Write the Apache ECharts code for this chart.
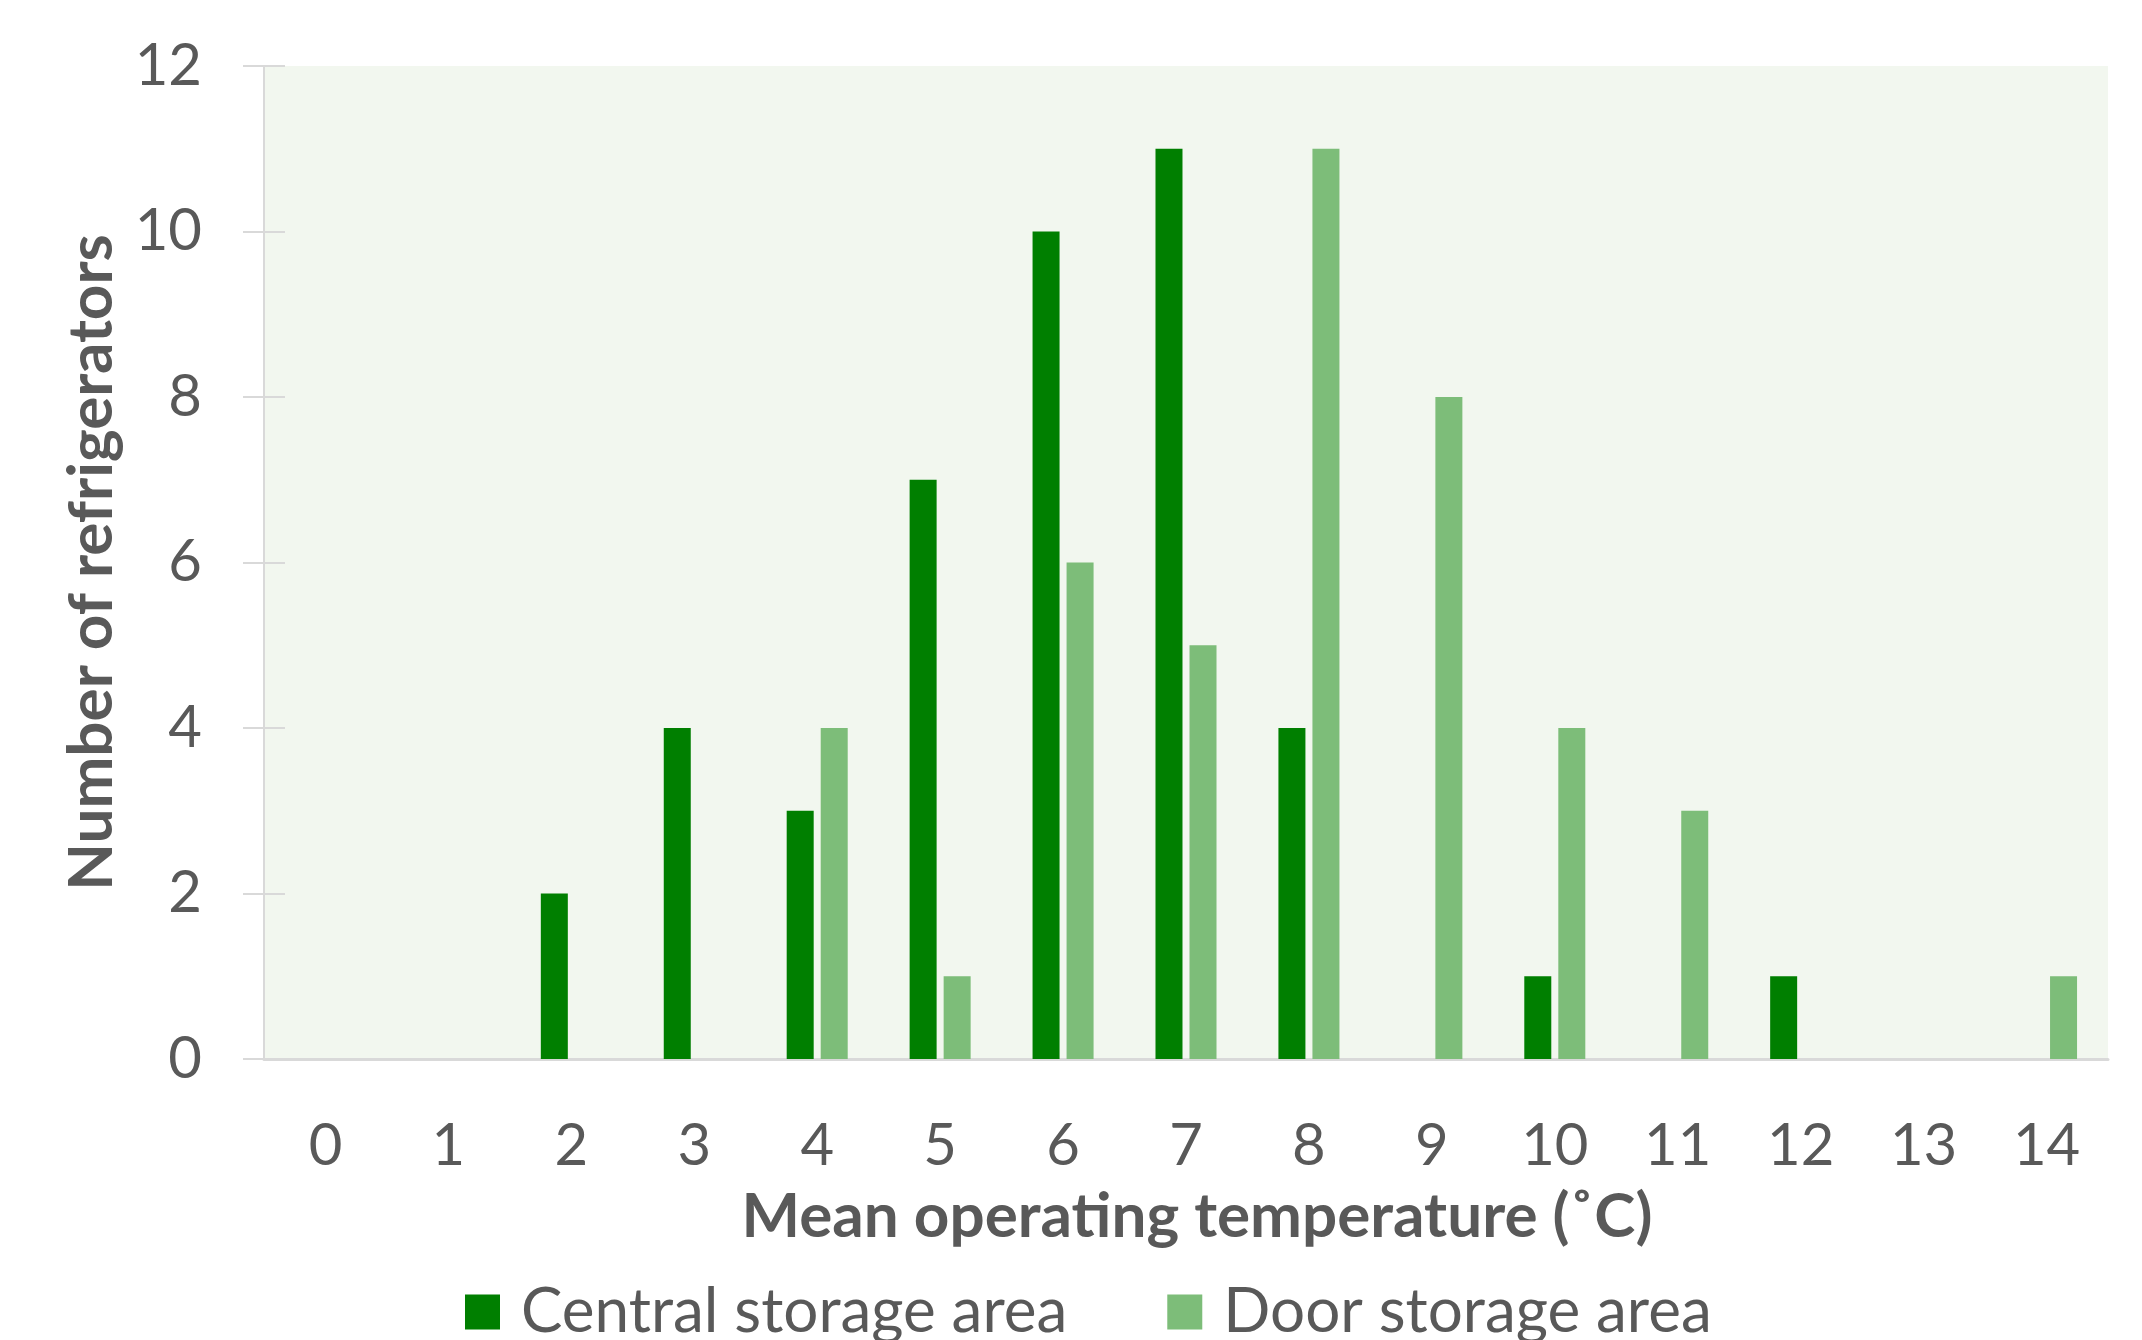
<!DOCTYPE html>
<html>
<head>
<meta charset="utf-8">
<script src="https://cdn.jsdelivr.net/npm/echarts@6/dist/echarts.min.js"></script>
<style>
  html, body { margin: 0; padding: 0; background: #fff; }
  #main { width: 2142px; height: 1340px; }
</style>
</head>
<body>
<div id="main"></div>
<script>
  // temperature bins (degrees C)
  const temps = ['0', '1', '2', '3', '4', '5', '6', '7', '8', '9', '10', '11', '12', '13', '14']
  const centralCounts = [0, 0, 2, 4, 3, 7, 10, 11, 4, 0, 1, 0, 1, 0, 0]
  const doorCounts = [0, 0, 0, 0, 4, 1, 6, 5, 11, 8, 4, 3, 0, 0, 1]

  const textColor = '#595959'
  const lineColor = '#d9d9d9'
  const font = 'Lato'

  let chart = echarts.init(document.getElementById('main'))
  let option = {
    animation: false,
    color: ['#007f00', '#7dbd79'],
    grid: {
      left: 264,
      right: 34,
      top: 66,
      bottom: 281,
      show: true,
      backgroundColor: '#f2f7ef',
      borderWidth: 0
    },
    legend: {
      left: 460,
      top: 1276,
      itemWidth: 35,
      itemHeight: 35,
      itemGap: 100,
      icon: 'rect',
      textStyle: {
        color: textColor,
        fontFamily: font,
        fontSize: 62,
        padding: [0, 0, 0, 16]
      },
      data: ['Central storage area', 'Door storage area']
    },
    xAxis: [
      {
        type: 'category',
        data: temps,
        name: 'Mean operating temperature (˚C)',
        nameLocation: 'middle',
        nameGap: 127,
        nameTextStyle: {
          color: textColor,
          fontFamily: font,
          fontSize: 62,
          fontWeight: 'bold',
          padding: [0, 0, 0, 22]
        },
        axisLine: { lineStyle: { color: lineColor, width: 3 } },
        axisTick: { length: 20, lineStyle: { color: lineColor, width: 2 } },
        axisLabel: { color: textColor, fontFamily: font, fontSize: 58, margin: 58 },
        splitLine: { show: false }
      },
      {
        type: 'category',
        data: temps,
        position: 'bottom',
        axisLine: { show: false },
        axisTick: { inside: true, length: 20, lineStyle: { color: lineColor, width: 2 } },
        axisLabel: { show: false },
        splitLine: { show: false }
      }
    ],
    yAxis: [
      {
        type: 'value',
        min: 0,
        max: 12,
        interval: 2,
        name: 'Number of refrigerators',
        nameLocation: 'middle',
        nameGap: 141,
        nameRotate: 90,
        nameTextStyle: { color: textColor, fontFamily: font, fontSize: 62, fontWeight: 'bold' },
        axisLine: { show: true, lineStyle: { color: lineColor, width: 2 } },
        axisTick: { show: true, length: 21, lineStyle: { color: lineColor, width: 2 } },
        axisLabel: { color: textColor, fontFamily: font, fontSize: 58, margin: 62 },
        splitLine: { show: false }
      },
      {
        type: 'value',
        min: 0,
        max: 12,
        interval: 2,
        position: 'left',
        axisLine: { show: false },
        axisTick: { show: true, inside: true, length: 21, lineStyle: { color: lineColor, width: 2 } },
        axisLabel: { show: false },
        splitLine: { show: false }
      }
    ],
    series: [
      {
        name: 'Central storage area',
        type: 'bar',
        data: centralCounts,
        barWidth: 27,
        barGap: '26%'
      },
      {
        name: 'Door storage area',
        type: 'bar',
        data: doorCounts,
        barWidth: 27,
        barGap: '26%'
      }
    ]
  }
  option && chart.setOption(option)
</script>
</body>
</html>
